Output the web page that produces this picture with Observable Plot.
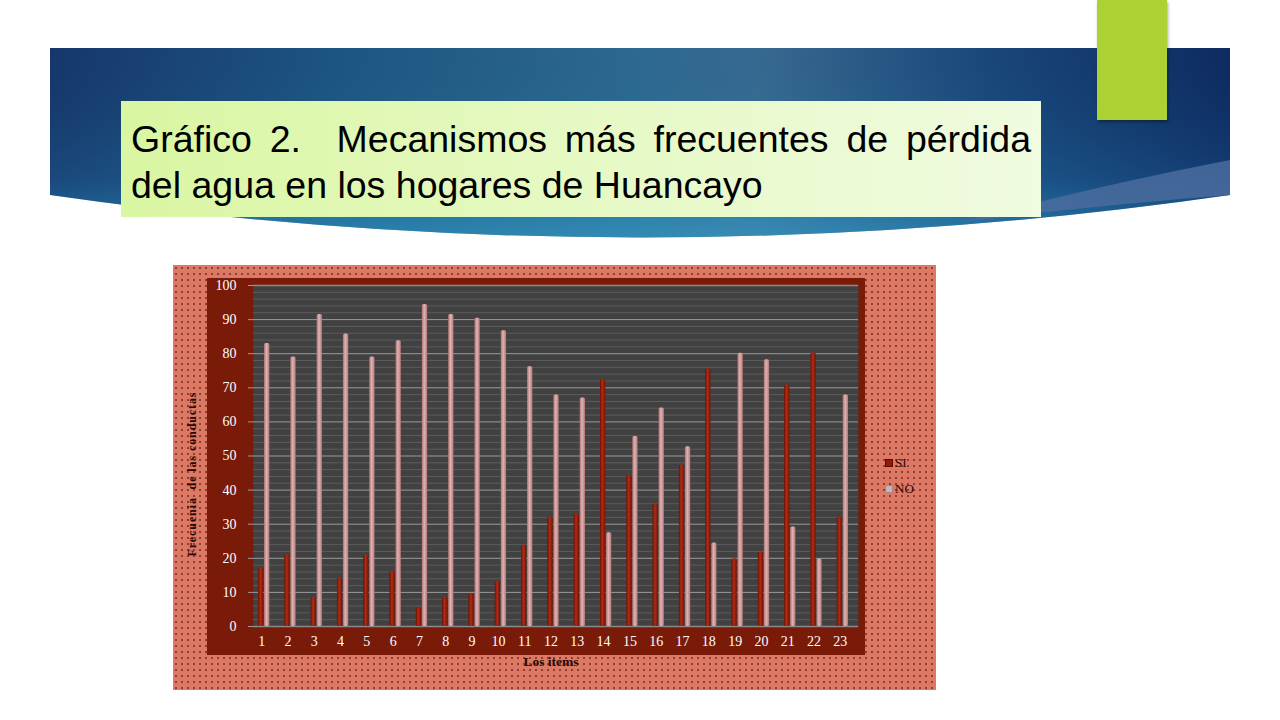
<!DOCTYPE html>
<html>
<head>
<meta charset="utf-8">
<script src="https://cdn.jsdelivr.net/npm/d3@7"></script>
<script src="https://cdn.jsdelivr.net/npm/@observablehq/plot@0.6"></script>
<style>
  html, body { margin: 0; padding: 0; background: #ffffff; width: 1280px; height: 720px; overflow: hidden; }
  .abs { position: absolute; }
  #title {
    left: 121px; top: 101px; width: 920px; height: 116px; box-sizing: border-box;
    padding: 15px 10px 0 10px;
    background: linear-gradient(90deg, #d9f6a2 0%, #e6f9c4 50%, #f0fbe0 100%);
    font-family: "Liberation Sans", Arial, sans-serif; font-size: 37.5px; line-height: 46px; color: #000;
  }
  #title .l1 { text-align: justify; text-align-last: justify; white-space: nowrap; }
  #green { left: 1097px; top: 0; width: 70px; height: 120px; background: #acd132; box-shadow: 1px 2px 3px rgba(0,0,0,0.35); }
  #outer {
    left: 173px; top: 265px; width: 763px; height: 425px;
    background-color: #dc7864;
    background-image: radial-gradient(circle, rgba(70,20,10,0.75) 0.6px, transparent 1px);
    background-size: 6px 6px;
  }
  #panel { left: 207px; top: 278px; width: 658px; height: 377px; background: #7a1a08; }
  #chart { left: 207px; top: 278px; }
  #ytitle {
    left: 192px; top: 474px; transform: translate(-50%, -50%) rotate(-90deg);
    font-family: "Liberation Serif", "Times New Roman", serif; font-weight: bold; font-size: 12px; letter-spacing: 0.9px; color: #2a0800; white-space: nowrap;
  }
  #xtitle {
    left: 551px; top: 654px; transform: translateX(-50%);
    font-family: "Liberation Serif", "Times New Roman", serif; font-weight: bold; font-size: 13.5px; color: #2a0800; white-space: nowrap;
  }
  #legend { left: 885px; top: 455px; font-family: "Liberation Serif", "Times New Roman", serif; font-size: 13px; color: #2a0800; }
  #legend div { display: flex; align-items: center; height: 15px; margin-bottom: 11px; }
  #legend i { display: inline-block; width: 6px; height: 6px; margin-right: 2px; }
</style>
</head>
<body>
<svg width="0" height="0" style="position:absolute">
  <defs>
    <linearGradient id="gSI" x1="0" x2="1" y1="0" y2="0">
      <stop offset="0%" stop-color="#6a1204"/>
      <stop offset="45%" stop-color="#b42a14"/>
      <stop offset="100%" stop-color="#6e1406"/>
    </linearGradient>
    <linearGradient id="gNO" x1="0" x2="1" y1="0" y2="0">
      <stop offset="0%" stop-color="#a87070"/>
      <stop offset="45%" stop-color="#e2b2b2"/>
      <stop offset="100%" stop-color="#b07a7a"/>
    </linearGradient>
    <linearGradient id="gBanner" x1="0" x2="1" y1="0" y2="0">
      <stop offset="0%" stop-color="#173a70"/>
      <stop offset="25%" stop-color="#1f5a88"/>
      <stop offset="50%" stop-color="#2f6e98"/>
      <stop offset="60%" stop-color="#3a6f98"/>
      <stop offset="80%" stop-color="#1a4a80"/>
      <stop offset="100%" stop-color="#0f2d66"/>
    </linearGradient>
    <linearGradient id="gBannerV" x1="0" x2="0" y1="0" y2="1">
      <stop offset="0%" stop-color="#000" stop-opacity="0.05"/>
      <stop offset="70%" stop-color="#2aa0c8" stop-opacity="0.15"/>
      <stop offset="100%" stop-color="#33a8d0" stop-opacity="0.5"/>
    </linearGradient>
  </defs>
</svg>

<svg class="abs" style="left:0;top:0" width="1280" height="260">
  <path d="M50,48 H1230 V195 Q640,280 50,195 Z" fill="url(#gBanner)"/>
  <path d="M50,48 H1230 V195 Q640,280 50,195 Z" fill="url(#gBannerV)"/>
  <path d="M1230,160 Q1100,185 960,222 Q1100,205 1230,195 Z" fill="#4a6c9c" opacity="0.85"/>
</svg>
<div id="green" class="abs"></div>
<div id="title" class="abs">
  <div class="l1">Gráfico 2.&nbsp; Mecanismos más frecuentes de pérdida</div>
  <div>del agua en los hogares de Huancayo</div>
</div>

<div id="outer" class="abs"></div>
<div id="panel" class="abs"></div>
<div id="chart" class="abs"></div>
<div id="ytitle" class="abs">Frecuenia&nbsp; de las conductas</div>
<div id="xtitle" class="abs">Los items</div>
<div id="legend" class="abs">
  <div><i style="background:#8e1c0a;border:1px solid #5a0c02"></i>SI</div>
  <div><i style="background:#cdb0b0;border:1px solid #a08888"></i>NO</div>
</div>

<script>
const items = ["1","2","3","4","5","6","7","8","9","10","11","12","13","14","15","16","17","18","19","20","21","22","23"];
const siValues = [17, 21, 8.5, 14.2, 21, 16.2, 5.6, 8.5, 9.6, 13.3, 23.8, 32.1, 33.0, 72.5, 44.3, 35.9, 47.3, 75.5, 19.9, 21.8, 70.8, 80.2, 32.1];
const noValues = [83, 79, 91.5, 85.8, 79, 83.8, 94.4, 91.5, 90.4, 86.7, 76.2, 67.9, 67.0, 27.5, 55.7, 64.1, 52.7, 24.5, 80.1, 78.2, 29.2, 19.8, 67.9];
const yTicks = [0, 10, 20, 30, 40, 50, 60, 70, 80, 90, 100];
const minorTicks = [2,4,6,8,12,14,16,18,22,24,26,28,32,34,36,38,42,44,46,48,52,54,56,58,62,64,66,68,72,74,76,78,82,84,86,88,92,94,96,98];

const siRows = items.map((item, i) => ({item, serie: "SI", value: siValues[i]}));
const noRows = items.map((item, i) => ({item, serie: "NO", value: noValues[i]}));

const chart = Plot.plot({
  width: 658,
  height: 377,
  marginLeft: 46,
  marginRight: 7,
  marginTop: 7,
  marginBottom: 29,
  style: {background: "transparent", color: "white", fontFamily: "'Liberation Serif', 'Times New Roman', serif", fontSize: "14px"},
  x: {domain: items, padding: 0, round: false, axis: null},
  y: {domain: [0, 100], axis: null},
  marks: [
    Plot.frame({fill: "#414141", stroke: null}),
    Plot.gridY(minorTicks, {stroke: "#5c5c5c", strokeOpacity: 1, strokeWidth: 1}),
    Plot.gridY(yTicks, {stroke: "#a4a4a4", strokeOpacity: 0.9, strokeWidth: 1}),
    Plot.ruleY([0], {stroke: "#8a8a8a", strokeWidth: 1.5}),
    Plot.ruleY([100], {stroke: "#8a8a8a", strokeWidth: 1.5}),
    Plot.barY(siRows, {x: "item", y: "value", fill: "url(#gSI)", insetLeft: 5, insetRight: 16, rx: 1.5}),
    Plot.barY(noRows, {x: "item", y: "value", fill: "url(#gNO)", insetLeft: 11, insetRight: 10, rx: 1.5}),
    Plot.axisY(yTicks, {tickSize: 5, tickPadding: 12, stroke: "#9a9a9a", fill: "white", label: null, fontSize: 14}),
    Plot.axisX(items, {tickSize: 0, tickPadding: 10, dx: -5, fill: "white", label: null, fontSize: 14})
  ]
});
document.getElementById("chart").appendChild(chart);
</script>
</body>
</html>
